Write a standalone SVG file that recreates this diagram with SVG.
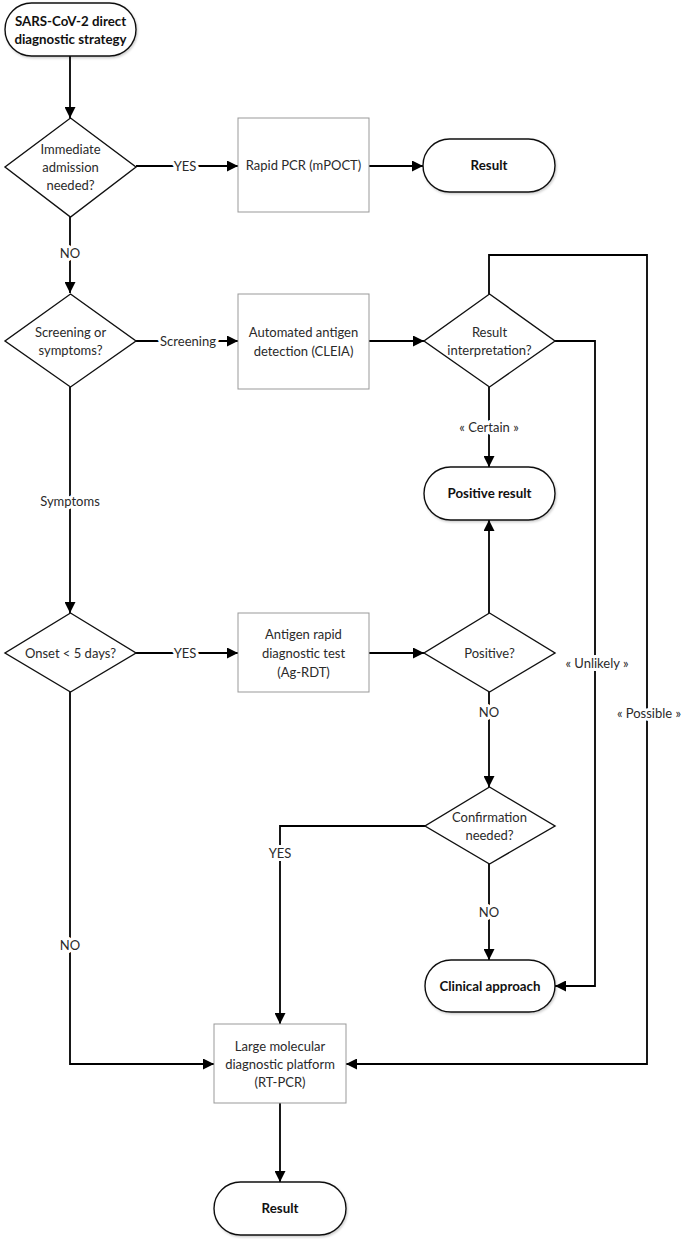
<svg xmlns="http://www.w3.org/2000/svg" width="684" height="1239" viewBox="0 0 684 1239">
<style>
  text { font-family: Lato, "Open Sans", "Liberation Sans", sans-serif; font-size: 13px; fill: #2a2a2a; text-anchor: middle; dominant-baseline: central; }
  .b { font-weight: bold; fill: #111; font-size: 13.3px; }
  .term { fill: #fff; stroke: #111; stroke-width: 1.4; filter: url(#sh); }
  .box { fill: #fff; stroke: #999; stroke-width: 1; }
  .dia { fill: #fff; stroke: #111; stroke-width: 1.4; }
  .con path { fill: none; stroke: #000; stroke-width: 1.8; marker-end: url(#arr); }
  .lbl { paint-order: stroke; stroke: #fff; stroke-width: 6px; stroke-linejoin: round; }
</style>
<defs>
  <marker id="arr" viewBox="0 0 10 10" refX="10" refY="5" markerWidth="11" markerHeight="11" markerUnits="userSpaceOnUse" orient="auto">
    <path d="M0,0 L10,5 L0,10 z" fill="#000"/>
  </marker>
  <filter id="sh" x="-10%" y="-10%" width="125%" height="130%">
    <feDropShadow dx="1" dy="1.5" stdDeviation="1" flood-color="#000" flood-opacity="0.2"/>
  </filter>
</defs>
<rect width="684" height="1239" fill="#fff"/>

<g id="connectors" class="con">
  <path d="M70,56 V118"/>
  <path d="M136,166 H238"/>
  <path d="M369,166 H423"/>
  <path d="M70,217 V293"/>
  <path d="M136,341 H238"/>
  <path d="M369,341 H424"/>
  <path d="M489,294 V255 H647 V1064 H346"/>
  <path d="M555,341 H595 V986 H555"/>
  <path d="M489,387 V467"/>
  <path d="M70,387 V613"/>
  <path d="M136,653 H238"/>
  <path d="M369,653 H424"/>
  <path d="M489,613 V520"/>
  <path d="M489,692 V787"/>
  <path d="M425,826 H280 V1024"/>
  <path d="M489,864 V960"/>
  <path d="M70,692 V1064 H214"/>
  <path d="M280,1103 V1182"/>
  <g id="labels">
    <text class="lbl" x="185" y="166">YES</text>
    <text class="lbl" x="70" y="253">NO</text>
    <text class="lbl" x="188" y="341">Screening</text>
    <text class="lbl" x="489" y="427">« Certain »</text>
    <text class="lbl" x="70" y="501">Symptoms</text>
    <text class="lbl" x="185" y="653">YES</text>
    <text class="lbl" x="597" y="663">« Unlikely »</text>
    <text class="lbl" x="649" y="713">« Possible »</text>
    <text class="lbl" x="489" y="712">NO</text>
    <text class="lbl" x="280" y="853">YES</text>
    <text class="lbl" x="489" y="912">NO</text>
    <text class="lbl" x="70" y="945">NO</text>
  </g>
</g>

<g id="start">
  <rect class="term" x="5" y="3" width="131" height="53" rx="26.5"/>
  <text class="b" x="70.5" y="21">SARS-CoV-2 direct</text>
  <text class="b" x="70.5" y="39">diagnostic strategy</text>
</g>
<g id="d-admission">
  <polygon class="dia" points="70.5,118 136,167 70.5,217 5,167"/>
  <text x="70.5" y="149">Immediate</text>
  <text x="70.5" y="167">admission</text>
  <text x="70.5" y="185">needed?</text>
</g>
<g id="rapid-pcr">
  <rect class="box" x="238" y="118" width="131" height="94"/>
  <text x="303.5" y="165">Rapid PCR (mPOCT)</text>
</g>
<g id="result1">
  <rect class="term" x="423" y="139" width="132" height="53" rx="26.5"/>
  <text class="b" x="489" y="165">Result</text>
</g>
<g id="d-screening">
  <polygon class="dia" points="70.5,294 136,341 70.5,387 5,341"/>
  <text x="70.5" y="332">Screening or</text>
  <text x="70.5" y="350">symptoms?</text>
</g>
<g id="cleia">
  <rect class="box" x="238" y="294" width="131" height="95"/>
  <text x="303.5" y="332">Automated antigen</text>
  <text x="303.5" y="351">detection (CLEIA)</text>
</g>
<g id="d-interpretation">
  <polygon class="dia" points="489.5,294 555,341 489.5,387 424,341"/>
  <text x="489.5" y="332">Result</text>
  <text x="489.5" y="350">interpretation?</text>
</g>
<g id="positive-result">
  <rect class="term" x="424" y="467" width="131" height="53" rx="26.5"/>
  <text class="b" x="489.5" y="493">Positive result</text>
</g>
<g id="d-onset">
  <polygon class="dia" points="70.5,613 136,653 70.5,692 5,653"/>
  <text x="70.5" y="653">Onset &lt; 5 days?</text>
</g>
<g id="ag-rdt">
  <rect class="box" x="238" y="613" width="131" height="79"/>
  <text x="303.5" y="634">Antigen rapid</text>
  <text x="303.5" y="653">diagnostic test</text>
  <text x="303.5" y="672">(Ag-RDT)</text>
</g>
<g id="d-positive">
  <polygon class="dia" points="489.5,613 555,653 489.5,692 424,653"/>
  <text x="489.5" y="653">Positive?</text>
</g>
<g id="d-confirmation">
  <polygon class="dia" points="489.5,787 555,826 489.5,864 425,826"/>
  <text x="489.5" y="817">Confirmation</text>
  <text x="489.5" y="835">needed?</text>
</g>
<g id="clinical">
  <rect class="term" x="425" y="960" width="130" height="52" rx="26"/>
  <text class="b" x="490" y="986">Clinical approach</text>
</g>
<g id="rt-pcr">
  <rect class="box" x="214" y="1024" width="132" height="79"/>
  <text x="280" y="1046">Large molecular</text>
  <text x="280" y="1064">diagnostic platform</text>
  <text x="280" y="1082">(RT-PCR)</text>
</g>
<g id="result2">
  <rect class="term" x="214" y="1182" width="132" height="53" rx="26.5"/>
  <text class="b" x="280" y="1208">Result</text>
</g>
</svg>
